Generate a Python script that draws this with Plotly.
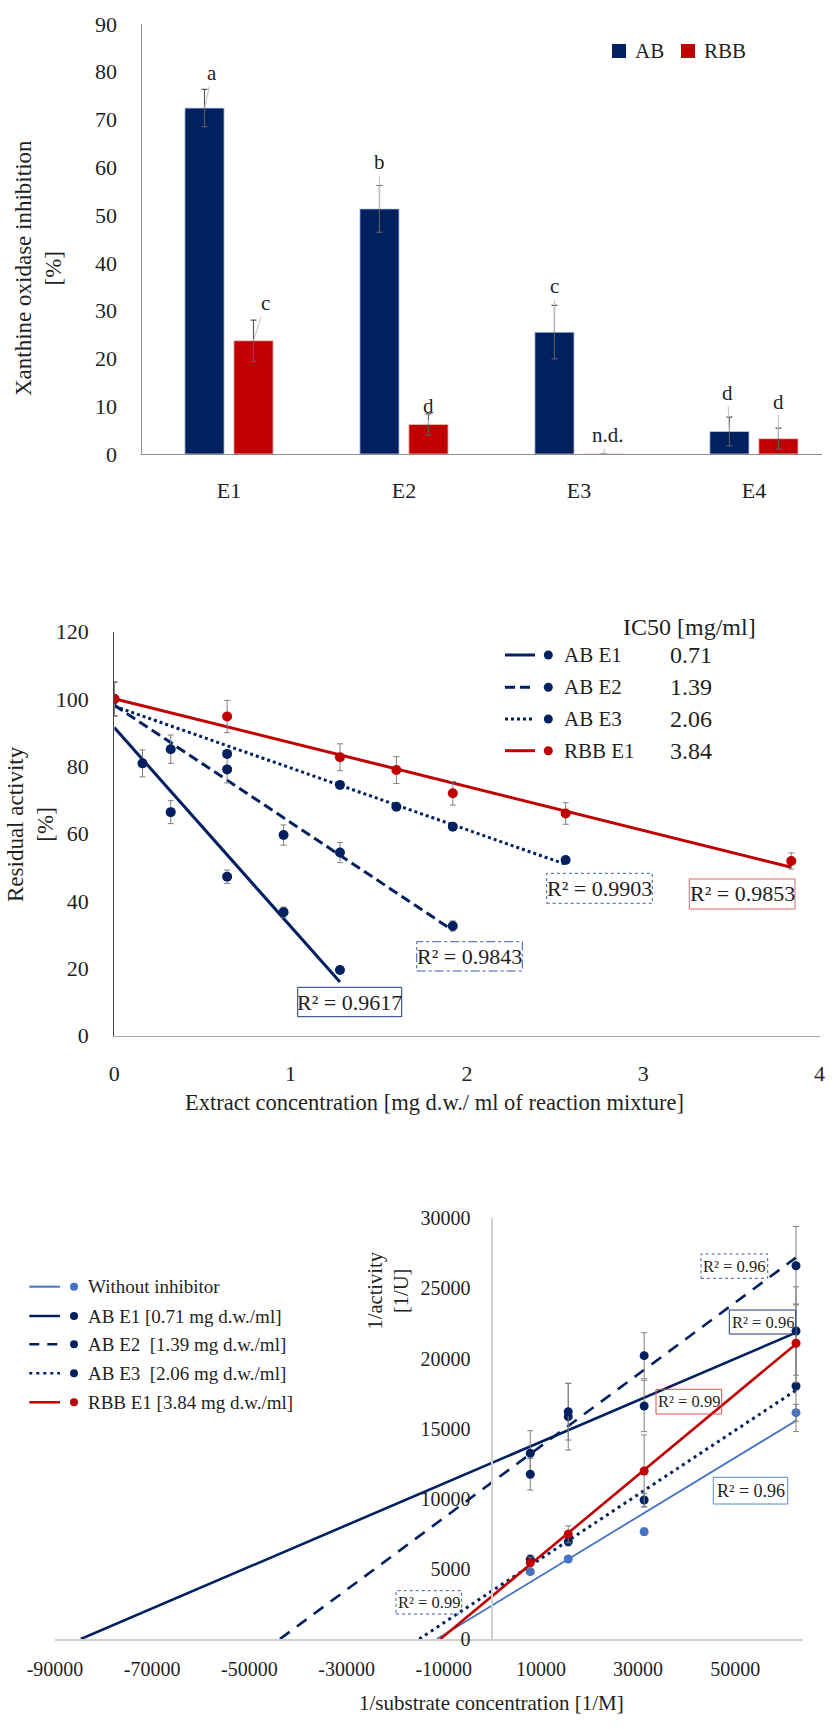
import numpy as np
import plotly.graph_objects as go

W, H = 833, 1729
FONT = "Liberation Serif"
TXT = "#1f1f1f"
NAVY = "#002060"
RED = "#C00000"
LBLUE = "#4472C4"
ERRC = "#7f7f7f"

# ---------------- Panel 1 data (bar chart) ----------------
categories = ["E1", "E2", "E3", "E4"]
ab_inhibition = [72.4, 51.3, 25.5, 4.7]
ab_err = [3.9, 4.9, 5.6, 3.0]
rbb_inhibition = [23.7, 6.2, 0.0, 3.2]
rbb_err = [4.3, 2.2, 0.0, 2.2]
ab_letters = ["a", "b", "c", "d"]
rbb_letters = ["c", "d", "n.d.", "d"]
p1_yticks = [0, 10, 20, 30, 40, 50, 60, 70, 80, 90]

# ---------------- Panel 2 data (residual activity) ----------------
ab_e1_conc = [0, 0.16, 0.32, 0.64, 0.96, 1.28]
ab_e1_act = [100, 80.9, 66.4, 47.2, 36.7, 19.5]
ab_e1_err = [5.0, 4.0, 3.4, 2.0, 1.5, 0.6]
ab_e2_conc = [0, 0.32, 0.64, 0.96, 1.28, 1.92]
ab_e2_act = [100, 85.1, 79.1, 59.6, 54.4, 32.6]
ab_e2_err = [5.0, 4.2, 4.0, 3.0, 3.0, 1.5]
ab_e3_conc = [0, 0.64, 1.28, 1.6, 1.92, 2.56]
ab_e3_act = [100, 83.7, 74.5, 68.0, 62.1, 52.2]
ab_e3_err = [5.0, 0.6, 0.6, 0.6, 0.6, 0.6]
rbb_e1_conc = [0, 0.64, 1.28, 1.6, 1.92, 2.56, 3.84]
rbb_e1_act = [100, 94.8, 82.7, 78.9, 72.0, 66.0, 51.9]
rbb_e1_err = [5.0, 4.8, 4.0, 4.0, 3.5, 3.2, 2.4]
p2_names = ["AB E1", "AB E2", "AB E3", "RBB E1"]
ic50_values = ["0.71", "1.39", "2.06", "3.84"]
r2_panel2 = ["0.9617", "0.9843", "0.9903", "0.9853"]

# ---------------- Panel 3 data (Lineweaver-Burk) ----------------
inv_substrate = [7812.5, 15625, 31250, 62500]
inv_act_none = [4800, 5705, 7653, 16140]
err_none = [150, 150, 250, 600]
inv_act_ab_e1 = [13243, 15853, 16616, 21964]
err_ab_e1 = [1610, 2380, 1830, 3150]
inv_act_ab_e2 = [11745, 16209, 20203, 26620]
err_ab_e2 = [1120, 2020, 1640, 2800]
inv_act_ab_e3 = [5683, 6940, 9912, 18042]
err_ab_e3 = [300, 300, 480, 3250]
inv_act_rbb_e1 = [5441, 7466, 11980, 21087]
err_rbb_e1 = [400, 600, 2570, 2800]
p3_names = ["Without inhibitor", "AB E1 [0.71 mg d.w./ml]", "AB E2  [1.39 mg d.w./ml]",
            "AB E3  [2.06 mg d.w./ml]", "RBB E1 [3.84 mg d.w./ml]"]
r2_panel3 = ["0.96", "0.96", "0.96", "0.99", "0.99"]
p3_xticks = [-90000, -70000, -50000, -30000, -10000, 10000, 30000, 50000]
p3_xticklabels = [str(v) for v in p3_xticks]
p3_yticks = [0, 5000, 10000, 15000, 20000, 25000, 30000]
p3_yticklabels = [str(v) for v in p3_yticks]


def px(x):
    return x / W


def py(y):
    return 1 - y / H


fig = go.Figure()

# ================= Panel 1 =================
fig.add_trace(go.Bar(x=categories, y=ab_inhibition, name="AB",
                     marker=dict(color=NAVY, line=dict(color="#c8d0e0", width=0.8)),
                     error_y=dict(type="data", array=ab_err, color="#5a5a5a", thickness=1.2, width=3),
                     xaxis="x", yaxis="y", showlegend=False))
fig.add_trace(go.Bar(x=categories, y=rbb_inhibition, name="RBB",
                     marker=dict(color=RED, line=dict(color="#f0c8c8", width=0.8)),
                     error_y=dict(type="data", array=rbb_err, color="#5a5a5a", thickness=1.2, width=3),
                     xaxis="x", yaxis="y", showlegend=False))

annotations = []
shapes = []

# letters with leader lines (offsets in pixels)
ab_off = [(8, -35), (0, -47), (0, -46), (-2, -39)]
rbb_off = [(12, -38), (0, -18), (5, -19), (0, -37)]
for i in range(len(categories)):
    for val, letter, off, dx in ((ab_inhibition[i], ab_letters[i], ab_off[i], -0.14),
                                 (rbb_inhibition[i], rbb_letters[i], rbb_off[i], 0.14)):
        annotations.append(dict(x=i + dx, y=val, xref="x", yref="y", text=letter,
                                showarrow=True, arrowhead=0, arrowwidth=1, arrowcolor="#bfbfbf",
                                ax=off[0], ay=off[1], standoff=0,
                                font=dict(family=FONT, size=21, color=TXT)))

# legend panel 1
for x0, col, label in ((612, NAVY, "AB"), (681, RED, "RBB")):
    shapes.append(dict(type="rect", xref="paper", yref="paper", x0=px(x0), x1=px(x0 + 14),
                       y0=py(58), y1=py(44), fillcolor=col, line=dict(width=0)))
    annotations.append(dict(x=px(x0 + 21), y=py(51), xref="paper", yref="paper", text=label,
                            showarrow=False, xanchor="left", yanchor="middle",
                            font=dict(family=FONT, size=21, color=TXT)))

annotations.append(dict(x=px(39), y=py(268), xref="paper", yref="paper",
                        text="Xanthine oxidase inhibition<br>[%]", textangle=-90, showarrow=False,
                        xanchor="center", yanchor="middle",
                        font=dict(family=FONT, size=23, color=TXT)))

# ================= Panel 2 =================
p2_series = [
    (ab_e1_conc, ab_e1_act, ab_e1_err, NAVY, "solid"),
    (ab_e2_conc, ab_e2_act, ab_e2_err, NAVY, "10px,5px"),
    (ab_e3_conc, ab_e3_act, ab_e3_err, NAVY, "3px,3px"),
    (rbb_e1_conc, rbb_e1_act, rbb_e1_err, RED, "solid"),
]
for (xc, yv, ye, col, dash), name in zip(p2_series, p2_names):
    m, b = np.polyfit(xc, yv, 1)
    xl = np.array([0.0, max(xc)])
    fig.add_trace(go.Scatter(x=xl, y=m * xl + b, mode="lines", line=dict(color=col, width=3, dash=dash),
                             xaxis="x2", yaxis="y2", showlegend=False, hoverinfo="skip"))
for (xc, yv, ye, col, dash), name in zip(p2_series, p2_names):
    fig.add_trace(go.Scatter(x=xc, y=yv, mode="markers", name=name,
                             marker=dict(color=col, size=10),
                             error_y=dict(type="data", array=ye, color=ERRC, thickness=1, width=3),
                             xaxis="x2", yaxis="y2", showlegend=False))

# R2 boxes panel 2
p2_boxes = [
    ((297.7, 401.7, 987.3, 1016.7), "#1f3a78", "solid"),
    ((416.7, 522.3, 941.7, 971.0), "#3a5ba8", "dashdot"),
    ((546.7, 652.3, 873.3, 903.3), "#3a5ba8", "dot"),
    ((689.3, 795.0, 879.0, 909.0), "#e06666", "solid"),
]
for (bx, col, dash), r2 in zip(p2_boxes, r2_panel2):
    shapes.append(dict(type="rect", xref="paper", yref="paper", x0=px(bx[0]), x1=px(bx[1]),
                       y0=py(bx[3]), y1=py(bx[2]), line=dict(color=col, width=1, dash=dash)))
    annotations.append(dict(x=px((bx[0] + bx[1]) / 2), y=py((bx[2] + bx[3]) / 2), xref="paper", yref="paper",
                            text="R² = " + r2, showarrow=False, xanchor="center", yanchor="middle",
                            font=dict(family=FONT, size=22, color=TXT)))

# legend panel 2
p2_leg_y = [655, 687.3, 719, 750.7]
for (xc, yv, ye, col, dash), name, ic, ly in zip(p2_series, p2_names, ic50_values, p2_leg_y):
    shapes.append(dict(type="line", xref="paper", yref="paper", x0=px(505), x1=px(535),
                       y0=py(ly), y1=py(ly), line=dict(color=col, width=3, dash=dash)))
    shapes.append(dict(type="circle", xref="paper", yref="paper", x0=px(548.3 - 4.5), x1=px(548.3 + 4.5),
                       y0=py(ly + 4.5), y1=py(ly - 4.5), fillcolor=col, line=dict(width=0)))
    annotations.append(dict(x=px(561.7), y=py(ly), xref="paper", yref="paper", text=name,
                            showarrow=False, xanchor="left", yanchor="middle",
                            font=dict(family=FONT, size=21, color=TXT)))
    annotations.append(dict(x=px(691), y=py(ly), xref="paper", yref="paper", text=ic,
                            showarrow=False, xanchor="center", yanchor="middle",
                            font=dict(family=FONT, size=24, color=TXT)))
annotations.append(dict(x=px(689), y=py(627), xref="paper", yref="paper", text="IC50 [mg/ml]",
                        showarrow=False, xanchor="center", yanchor="middle",
                        font=dict(family=FONT, size=24, color=TXT)))

annotations.append(dict(x=px(30), y=py(824), xref="paper", yref="paper",
                        text="Residual activity<br>[%]", textangle=-90, showarrow=False,
                        xanchor="center", yanchor="middle",
                        font=dict(family=FONT, size=23, color=TXT)))
annotations.append(dict(x=px(435), y=py(1102), xref="paper", yref="paper",
                        text="Extract concentration [mg d.w./ ml of reaction mixture]", showarrow=False,
                        xanchor="center", yanchor="middle",
                        font=dict(family=FONT, size=22.5, color=TXT)))

# ================= Panel 3 =================
p3_series = [
    (inv_act_none, err_none, LBLUE, "solid", 1.8),
    (inv_act_ab_e1, err_ab_e1, NAVY, "solid", 2.6),
    (inv_act_ab_e2, err_ab_e2, NAVY, "12px,9px", 2.6),
    (inv_act_ab_e3, err_ab_e3, NAVY, "3px,4px", 3),
    (inv_act_rbb_e1, err_rbb_e1, RED, "solid", 2.6),
]
for (yv, ye, col, dash, lw), name in zip(p3_series, p3_names):
    m, b = np.polyfit(inv_substrate, yv, 1)
    xl = np.array([-b / m, max(inv_substrate)])
    fig.add_trace(go.Scatter(x=xl, y=m * xl + b, mode="lines", line=dict(color=col, width=lw, dash=dash),
                             xaxis="x3", yaxis="y3", showlegend=False, hoverinfo="skip"))
for (yv, ye, col, dash, lw), name in zip(p3_series, p3_names):
    fig.add_trace(go.Scatter(x=inv_substrate, y=yv, mode="markers", name=name,
                             marker=dict(color=col, size=9),
                             error_y=dict(type="data", array=ye, color=ERRC, thickness=1, width=3),
                             xaxis="x3", yaxis="y3", showlegend=False))

p3_boxes = [
    ((713.3, 787.7, 1477.3, 1504.0), "#5b86d6", "solid", 18),
    ((729.3, 795.7, 1310.0, 1334.0), "#1f3a78", "solid", 16.5),
    ((701.0, 767.7, 1254.0, 1278.3), "#3a5ba8", "dot", 16.5),
    ((396.0, 461.7, 1590.7, 1614.0), "#3a5ba8", "dot", 16.5),
    ((656.0, 721.7, 1389.3, 1414.0), "#e05050", "solid", 16.5),
]
for (bx, col, dash, fs), r2 in zip(p3_boxes, r2_panel3):
    shapes.append(dict(type="rect", xref="paper", yref="paper", x0=px(bx[0]), x1=px(bx[1]),
                       y0=py(bx[3]), y1=py(bx[2]), line=dict(color=col, width=1, dash=dash)))
    annotations.append(dict(x=px((bx[0] + bx[1]) / 2), y=py((bx[2] + bx[3]) / 2), xref="paper", yref="paper",
                            text="R² = " + r2, showarrow=False, xanchor="center", yanchor="middle",
                            font=dict(family=FONT, size=fs, color=TXT)))

p3_leg_y = [1286.7, 1316, 1344.3, 1373.3, 1402.3]
leg3_dash = ["solid", "solid", "10px,8px", "3px,4px", "solid"]
for (yv, ye, col, dash, lw), name, ly, ld in zip(p3_series, p3_names, p3_leg_y, leg3_dash):
    shapes.append(dict(type="line", xref="paper", yref="paper", x0=px(29.3), x1=px(60),
                       y0=py(ly), y1=py(ly), line=dict(color=col, width=2.5 if col != LBLUE else 2, dash=ld)))
    shapes.append(dict(type="circle", xref="paper", yref="paper", x0=px(74 - 4), x1=px(74 + 4),
                       y0=py(ly + 4), y1=py(ly - 4), fillcolor=col, line=dict(width=0)))
    annotations.append(dict(x=px(86), y=py(ly), xref="paper", yref="paper", text=name,
                            showarrow=False, xanchor="left", yanchor="middle",
                            font=dict(family=FONT, size=19, color=TXT)))

annotations.append(dict(x=px(387.5), y=py(1291), xref="paper", yref="paper",
                        text="1/activity<br>[1/U]", textangle=-90, showarrow=False,
                        xanchor="center", yanchor="middle",
                        font=dict(family=FONT, size=20.5, color=TXT)))
annotations.append(dict(x=px(491), y=py(1703), xref="paper", yref="paper",
                        text="1/substrate concentration [1/M]", showarrow=False,
                        xanchor="center", yanchor="middle",
                        font=dict(family=FONT, size=21, color=TXT)))

# ================= Axes =================
TR = "rgba(0,0,0,0)"
x3_dom = [px(55), px(803.3)]
x3_range = [-90000, 64000]
y3_pos = x3_dom[0] + (0 - x3_range[0]) / (x3_range[1] - x3_range[0]) * (x3_dom[1] - x3_dom[0])

common = dict(showgrid=False, zeroline=False, ticks="outside", tickcolor=TR, automargin=False)

fig.update_layout(
    width=W, height=H, autosize=False,
    margin=dict(l=0, r=0, t=0, b=0, pad=0, autoexpand=False),
    paper_bgcolor="white", plot_bgcolor="white",
    font=dict(family=FONT, color=TXT),
    barmode="group", bargap=0.44, bargroupgap=0.2,
    showlegend=False,
    xaxis=dict(domain=[px(141.5), px(822)], range=[-0.5, 3.389], type="category", anchor="y",
               showline=True, linecolor="#8c8c8c", linewidth=1.3, ticklen=16,
               tickfont=dict(family=FONT, size=22, color=TXT), **common),
    yaxis=dict(domain=[py(454), py(24)], range=[0, 90], tickvals=p1_yticks, anchor="x",
               showline=True, linecolor="#8c8c8c", linewidth=1.3, ticklen=19,
               tickfont=dict(family=FONT, size=22, color=TXT), **common),
    xaxis2=dict(domain=[px(114.3), px(819.5)], range=[0, 4], dtick=1, anchor="y2",
                showline=True, linecolor="#a6a6a6", linewidth=1.3, ticklen=18,
                tickfont=dict(family=FONT, size=22, color=TXT), **common),
    yaxis2=dict(domain=[py(1035.7), py(631.7)], range=[0, 120], dtick=20, anchor="x2",
                showline=True, linecolor="#404040", linewidth=1.2, ticklen=20,
                tickfont=dict(family=FONT, size=22, color=TXT), **common),
    xaxis3=dict(domain=x3_dom, range=x3_range, tickvals=p3_xticks, ticktext=p3_xticklabels, anchor="y3",
                showline=True, linecolor="#d0d0d0", linewidth=1.5, ticklen=11,
                tickfont=dict(family=FONT, size=20, color=TXT), **common),
    yaxis3=dict(domain=[py(1639), py(1218.3)], range=[0, 30000], tickvals=p3_yticks, ticktext=p3_yticklabels,
                anchor="free", position=y3_pos,
                showline=True, linecolor="#d0d0d0", linewidth=1.5, ticklen=17,
                tickfont=dict(family=FONT, size=20, color=TXT), **common),
    annotations=annotations,
    shapes=shapes,
)

fig.write_html("out.html")
